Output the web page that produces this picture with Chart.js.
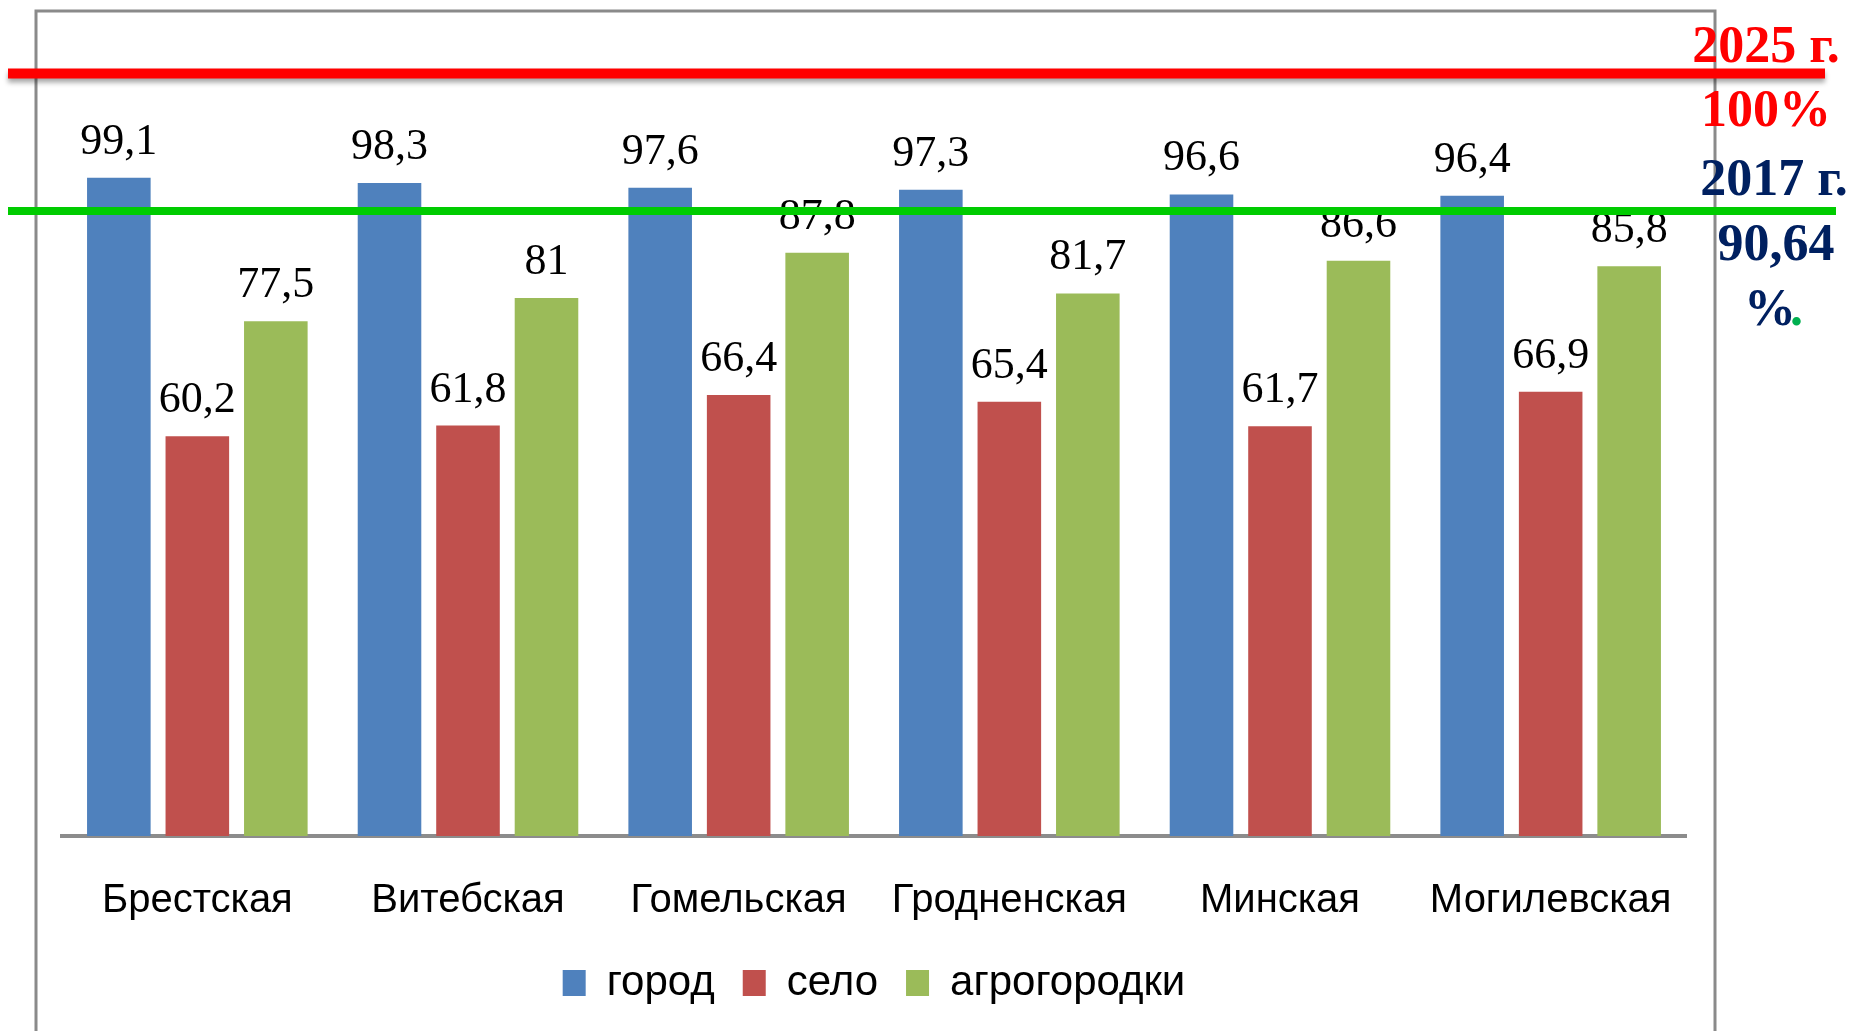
<!DOCTYPE html>
<html>
<head>
<meta charset="utf-8">
<script src="https://cdn.jsdelivr.net/npm/chart.js@4.4.0/dist/chart.umd.min.js"></script>
<style>
    html, body { margin: 0; padding: 0; background: #fff; }
    #wrap { width: 1856px; height: 1031px; }
</style>
</head>
<body>
<div id="wrap"><canvas id="coverageChart" width="1856" height="1031"></canvas></div>
<script>
const regions = ['Брестская', 'Витебская', 'Гомельская', 'Гродненская', 'Минская', 'Могилевская'];
const seriesNames = ['город', 'село', 'агрогородки'];
const cityValues = [99.1, 98.3, 97.6, 97.3, 96.6, 96.4];
const villageValues = [60.2, 61.8, 66.4, 65.4, 61.7, 66.9];
const agroValues = [77.5, 81, 87.8, 81.7, 86.6, 85.8];
// overlay lines: red (2025 target), green (2017 level)
const overlayLevels = [114.8, 94.1];

const numFmt = v => String(v).replace('.', ',');
const sansFamily = '"Liberation Sans Narrow", "Liberation Sans", Arial, sans-serif';

// grey slide frame behind the chart
const framePlugin = {
    id: 'frame',
    beforeDraw(chart) {
        const ctx = chart.ctx;
        ctx.save();
        ctx.strokeStyle = '#8a8a8a';
        ctx.lineWidth = 3;
        ctx.strokeRect(36, 11, 1679, 1100);
        ctx.restore();
    }
};

// value labels above each bar
const valueLabels = {
    id: 'valueLabels',
    afterDatasetsDraw(chart) {
        const ctx = chart.ctx;
        ctx.save();
        ctx.font = '44px "Liberation Serif", "Times New Roman", serif';
        ctx.fillStyle = '#000';
        ctx.textAlign = 'center';
        ctx.textBaseline = 'alphabetic';
        chart.data.datasets.forEach((ds, i) => {
            chart.getDatasetMeta(i).data.forEach((bar, j) => {
                ctx.fillText(numFmt(ds.data[j]), bar.x, bar.y - 24);
            });
        });
        ctx.restore();
    }
};

// red / green horizontal lines and the captions on the right
const overlayPlugin = {
    id: 'overlay',
    afterDraw(chart) {
        const ctx = chart.ctx;
        const y = chart.scales.y;
        ctx.save();
        // red line with a soft shadow
        ctx.shadowColor = 'rgba(0,0,0,0.35)';
        ctx.shadowBlur = 5;
        ctx.shadowOffsetY = 4;
        ctx.strokeStyle = '#ff0000';
        ctx.lineWidth = 10;
        ctx.beginPath();
        ctx.moveTo(8, y.getPixelForValue(overlayLevels[0]));
        ctx.lineTo(1825, y.getPixelForValue(overlayLevels[0]));
        ctx.stroke();
        ctx.shadowColor = 'transparent';
        ctx.strokeStyle = '#00cc00';
        ctx.lineWidth = 8;
        ctx.beginPath();
        ctx.moveTo(8, y.getPixelForValue(overlayLevels[1]));
        ctx.lineTo(1836, y.getPixelForValue(overlayLevels[1]));
        ctx.stroke();

        ctx.font = 'bold 52px "Liberation Serif", "Times New Roman", serif';
        ctx.textAlign = 'center';
        ctx.textBaseline = 'middle';
        ctx.fillStyle = '#ff0000';
        ctx.fillText('2025 г.', 1766, 49);
        ctx.fillText('100%', 1766, 113);
        ctx.fillStyle = '#002060';
        ctx.fillText('2017 г.', 1774, 182);
        ctx.fillText('90,64', 1776, 247);
        ctx.textAlign = 'left';
        ctx.fillText('%', 1744, 312);
        ctx.fillStyle = '#00b050';
        ctx.fillText('.', 1790, 312);
        ctx.restore();
    }
};

const ctx = document.getElementById('coverageChart').getContext('2d');
new Chart(ctx, {
    type: 'bar',
    data: {
        labels: regions,
        datasets: [
            { label: seriesNames[0], data: cityValues, backgroundColor: '#4f81bd' },
            { label: seriesNames[1], data: villageValues, backgroundColor: '#c0504d' },
            { label: seriesNames[2], data: agroValues, backgroundColor: '#9bbb59' }
        ]
    },
    options: {
        responsive: false,
        animation: false,
        devicePixelRatio: 1,
        categoryPercentage: 0.87,
        barPercentage: 0.81,
        layout: {
            padding: { left: 62, right: 170, top: 39, bottom: 17 }
        },
        scales: {
            x: {
                grid: { display: false },
                border: { display: true, color: '#8c8c8c', width: 4 },
                afterFit(scale) { scale.height = 98; },
                ticks: {
                    color: '#000',
                    padding: 33,
                    autoSkip: false,
                    maxRotation: 0,
                    minRotation: 0,
                    font: { family: sansFamily, size: 40 }
                }
            },
            y: {
                display: false,
                min: 0,
                max: 120
            }
        },
        plugins: {
            legend: {
                position: 'bottom',
                labels: {
                    color: '#000',
                    boxWidth: 23,
                    boxHeight: 26,
                    padding: 28,
                    font: { family: sansFamily, size: 42 }
                }
            },
            tooltip: { enabled: false }
        }
    },
    plugins: [framePlugin, valueLabels, overlayPlugin]
});
</script>
</body>
</html>
